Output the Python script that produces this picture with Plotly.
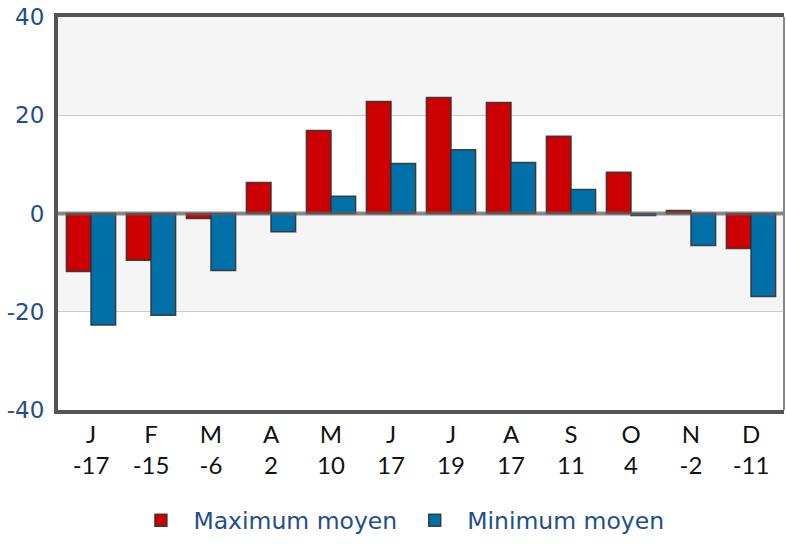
import plotly.graph_objects as go

months = ["J", "F", "M", "A", "M", "J", "J", "A", "S", "O", "N", "D"]
mean_temp = ["-17", "-15", "-6", "2", "10", "17", "19", "17", "11", "4", "-2", "-11"]
max_moyen = [-11.8, -9.5, -1.0, 6.3, 16.9, 22.8, 23.6, 22.6, 15.7, 8.4, 0.6, -7.1]
min_moyen = [-22.7, -20.7, -11.6, -3.7, 3.5, 10.2, 13.0, 10.4, 4.9, -0.4, -6.5, -16.9]
y_ticks = [-40, -20, 0, 20, 40]

x = list(range(len(months)))
tick_text = [f"{m}<br>{t}" for m, t in zip(months, mean_temp)]
y_tick_text = [str(v) for v in y_ticks]

fig = go.Figure()
fig.add_trace(go.Bar(
    x=x, y=max_moyen, name="Maximum moyen",
    marker=dict(color="#cc0000", line=dict(color="rgba(50,50,50,0.9)", width=1.5)),
))
fig.add_trace(go.Bar(
    x=x, y=min_moyen, name="Minimum moyen",
    marker=dict(color="#0070a8", line=dict(color="rgba(50,50,50,0.9)", width=1.5)),
))

band_color = "#f5f5f5"
shapes = [
    dict(type="rect", xref="paper", yref="y", x0=0, x1=1, y0=20, y1=40,
         fillcolor=band_color, line=dict(width=0), layer="below"),
    dict(type="rect", xref="paper", yref="y", x0=0, x1=1, y0=-20, y1=0,
         fillcolor=band_color, line=dict(width=0), layer="below"),
    dict(type="line", xref="paper", yref="y", x0=0, x1=1, y0=0, y1=0,
         line=dict(color="rgba(95,95,95,0.7)", width=4), layer="above"),
    dict(type="line", xref="paper", yref="paper", x0=1, x1=1, y0=0, y1=1,
         line=dict(color="#888888", width=2), layer="above"),
]

fig.update_layout(
    width=786, height=544,
    margin=dict(l=58, r=2, t=17, b=134),
    paper_bgcolor="white", plot_bgcolor="white",
    barmode="group", bargap=0.18, bargroupgap=0,
    shapes=shapes,
    showlegend=True,
    legend=dict(
        orientation="h", x=0.097, xanchor="left", y=-0.225, yanchor="top",
        font=dict(family="DejaVu Sans", size=23.5, color="#1f4e8c"),
        itemwidth=55, traceorder="normal",
    ),
    xaxis=dict(
        range=[-0.55, 11.55], tickmode="array", tickvals=x, ticktext=tick_text,
        tickfont=dict(family="Lato", size=24, color="#111111"),
        showgrid=False, zeroline=False, ticks="",
        showline=True, linecolor="#555555", linewidth=4, mirror=True,
        ticklabelstandoff=0, automargin=False,
    ),
    yaxis=dict(
        range=[-40, 40], tickmode="array", tickvals=y_ticks, ticktext=y_tick_text,
        tickfont=dict(family="DejaVu Sans", size=23, color="#1f4e8c"),
        showgrid=True, gridcolor="#cccccc", gridwidth=1,
        zeroline=False, ticks="",
        showline=True, linecolor="#555555", linewidth=4,
        ticklabelstandoff=5, automargin=False,
    ),
)

fig.write_html("out.html", config={"displayModeBar": False},
               post_script="document.body.style.margin='0';")
